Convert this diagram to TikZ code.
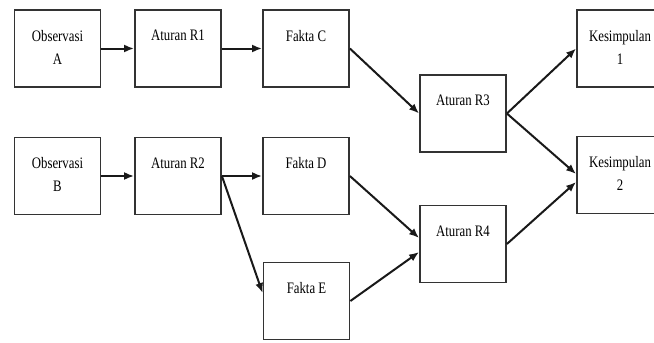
\documentclass[tikz,border=0pt]{standalone}
\usepackage{fontspec}
\usepackage{graphicx}
\setmainfont{Liberation Serif}
\usetikzlibrary{arrows.meta}
\newcommand{\nar}[1]{\scalebox{0.8}[1]{#1}}
\newcommand{\boxtxt}[2]{\parbox[c][#1][t]{84pt}{\centering\fontsize{16}{23}\selectfont\vspace*{20pt}#2}}
\begin{document}
\begin{tikzpicture}[x=1pt,y=-1pt,
  blk/.style={draw=black!80,line width=1.8pt,rectangle,inner sep=0pt,minimum width=86pt,minimum height=77pt},
  arr/.style={draw=black!90,line width=2pt,-{Latex[length=10pt,width=8pt]}}]
\useasboundingbox (0,0) rectangle (654,343);
\clip (0,0) rectangle (654,343);
\fill[white] (0,0) rectangle (654,343);
\node[blk] (OA) at (57.5,48.5) {\boxtxt{77pt}{\nar{Observasi}\\\nar{A}}};
\node[blk] (R1) at (178,48.5) {\boxtxt{77pt}{\nar{Aturan R1}}};
\node[blk] (FC) at (306,48.5) {\boxtxt{77pt}{\nar{Fakta C}}};
\node[blk] (R3) at (463,113.5) {\boxtxt{77pt}{\nar{Aturan R3}}};
\node[blk] (K1) at (620,48.5) {\boxtxt{77pt}{\nar{Kesimpulan}\\\nar{1}}};
\node[blk] (OB) at (57.5,176) {\boxtxt{77pt}{\nar{Observasi}\\\nar{B}}};
\node[blk] (R2) at (178,176) {\boxtxt{77pt}{\nar{Aturan R2}}};
\node[blk] (FD) at (306,176) {\boxtxt{77pt}{\nar{Fakta D}}};
\node[blk] (K2) at (620,175) {\boxtxt{77pt}{\nar{Kesimpulan}\\\nar{2}}};
\node[blk] (FE) at (306.5,301) {\boxtxt{77pt}{\nar{Fakta E}}};
\node[blk] (R4) at (463,244) {\boxtxt{77pt}{\nar{Aturan R4}}};
\draw[arr] (OA) -- (R1);
\draw[arr] (R1) -- (FC);
\draw[arr] (FC.east) -- (R3.west);
\draw[arr] (R3.east) -- (K1.west);
\draw[arr] (R3.east) -- ([yshift=1pt]K2.west);
\draw[arr] (OB) -- (R2);
\draw[arr] (R2) -- (FD);
\draw[arr] (R2.east) -- ([yshift=8pt]FE.west);
\draw[arr] (FD.east) -- ([yshift=6pt]R4.west);
\draw[arr] (FE.east) -- ([yshift=-8pt]R4.west);
\draw[arr] (R4.east) -- ([yshift=-7pt]K2.west);
\end{tikzpicture}
\end{document}
